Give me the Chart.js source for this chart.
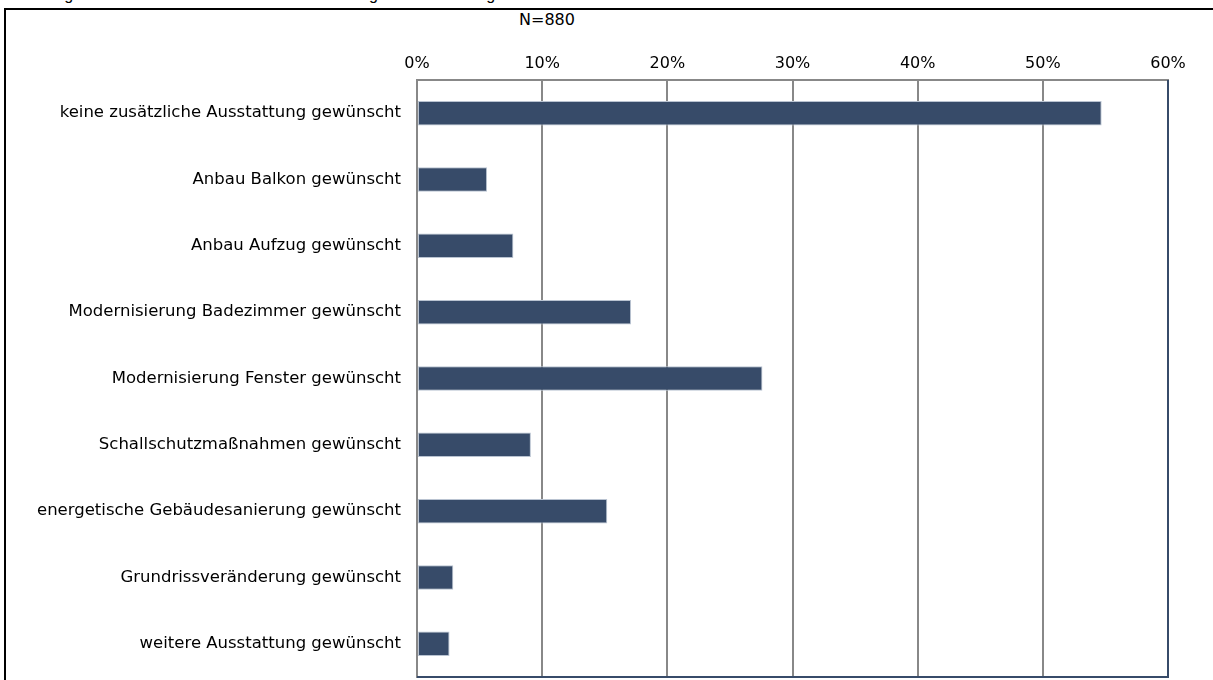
<!DOCTYPE html>
<html>
<head>
<meta charset="utf-8">
<title>Zusätzliche Ausstattung</title>
<script src="https://cdn.jsdelivr.net/npm/chart.js@4"></script>
<style>
	body { margin: 0; background: #fff; overflow: hidden; }
	#page { position: relative; width: 1213px; height: 680px; overflow: hidden; }
	#caption { position: absolute; left: 2px; top: -14px; font: 16px "Liberation Sans", Arial, sans-serif; color: #000; white-space: nowrap; }
	#frame { position: absolute; left: 4px; top: 8px; width: 1240px; height: 700px; border: 2px solid #000; box-sizing: border-box; background: #fff; }
	#sample { position: absolute; left: 0; width: 1094px; top: 10px; text-align: center; font: 16px "DejaVu Sans", sans-serif; color: #000; }
	#myChart { position: absolute; left: 0; top: 0; }
</style>
</head>
<body>
<div id="page">
	<div id="caption">Abbildung 16: Wunsch nach zusätzlicher Ausstattung in der Wohnung</div>
	<div id="frame"></div>
	<div id="sample">N=880</div>
	<canvas id="myChart" width="1213" height="680"></canvas>
</div>
<script>
	// Antworten (Anteil in %)
	var categories = [
		'keine zusätzliche Ausstattung gewünscht',
		'Anbau Balkon gewünscht',
		'Anbau Aufzug gewünscht',
		'Modernisierung Badezimmer gewünscht',
		'Modernisierung Fenster gewünscht',
		'Schallschutzmaßnahmen gewünscht',
		'energetische Gebäudesanierung gewünscht',
		'Grundrissveränderung gewünscht',
		'weitere Ausstattung gewünscht'
	];
	var shares = [54.7, 5.6, 7.7, 17.1, 27.6, 9.1, 15.2, 2.9, 2.6];
	var tickValues = [0, 10, 20, 30, 40, 50, 60];

	var barColor = '#374b69';
	var gridColor = '#888888';

	// rechter und unterer Rand der Zeichenfläche
	var plotFrame = {
		id: 'plotFrame',
		afterDatasetsDraw: function (chart) {
			var a = chart.chartArea, ctx = chart.ctx;
			ctx.save();
			ctx.strokeStyle = barColor;
			ctx.lineWidth = 2;
			ctx.beginPath();
			ctx.moveTo(a.right, a.top);
			ctx.lineTo(a.right, a.bottom);
			ctx.lineTo(a.left, a.bottom);
			ctx.stroke();
			ctx.restore();
		}
	};

	new Chart(document.getElementById('myChart'), {
		type: 'bar',
		data: {
			labels: categories,
			datasets: [{
				data: shares,
				backgroundColor: barColor,
				borderColor: '#b9c3d1',
				borderWidth: 1,
				borderSkipped: false,
				categoryPercentage: 1,
				barPercentage: 0.37
			}]
		},
		options: {
			indexAxis: 'y',
			responsive: false,
			animation: false,
			layout: { padding: { left: 0, top: 0, right: 45, bottom: 3 } },
			plugins: {
				legend: { display: false },
				tooltip: { enabled: false }
			},
			scales: {
				x: {
					position: 'top',
					min: 0,
					max: 60,
					afterBuildTicks: function (scale) {
						scale.ticks = tickValues.map(v => ({ value: v }));
					},
					afterFit: function (scale) { scale.height = 80; },
					ticks: {
						callback: v => v + '%',
						color: '#000',
						padding: 7,
						font: { family: 'DejaVu Sans', size: 16 }
					},
					grid: { color: gridColor, lineWidth: 2, drawTicks: false },
					border: { color: gridColor, width: 2 }
				},
				y: {
					// feste Breite, kein zusätzlicher Rand oben/unten durch die Beschriftung
					afterFit: function (scale) {
						scale.width = 417;
						scale.paddingTop = 0;
						scale.paddingBottom = 0;
					},
					ticks: {
						color: '#000',
						padding: 16,
						font: { family: 'DejaVu Sans', size: 16.5 }
					},
					grid: { display: false, drawTicks: false },
					border: { color: gridColor, width: 2 }
				}
			}
		},
		plugins: [plotFrame]
	});
</script>
</body>
</html>
